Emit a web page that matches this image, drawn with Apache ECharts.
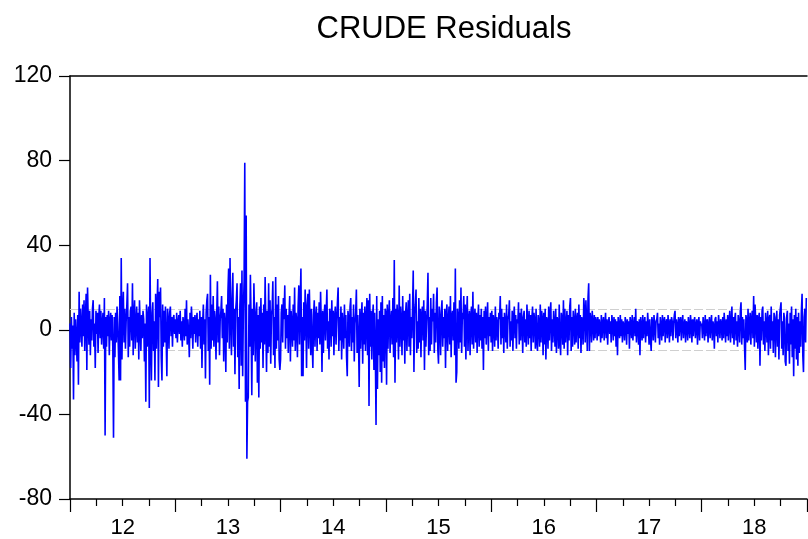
<!DOCTYPE html>
<html>
<head>
<meta charset="utf-8">
<title>CRUDE Residuals</title>
<script src="https://cdn.jsdelivr.net/npm/echarts@6/dist/echarts.min.js"></script>
<style>
  html, body { margin: 0; padding: 0; background: #ffffff; }
  #chart { width: 808px; height: 539px; }
</style>
</head>
<body>
<div id="chart"></div>
<script>
// Daily residuals of the CRUDE equation, one array per calendar year
const r2012 = [
  3, -18, 6, -9, 2, -33, 8, -12, 5, -4,
  -15, 7, -26, 18, -6, 10, 2, -8, 12, -3,
  14, -10, 6, 17, -19, 20, 4, -7, 9, -12,
  5, -5, 10, 14, -8, 3, -18, 9, -2, 8,
  -11, 6, 12, -4, 9, -7, 3, 8, -9, 15,
  -50, 6, -8, 7, -3, 9, -12, 4, 8, -5,
  7, -9, -51, 6, -13, 8, -6, 11, 3, -10,
  -24, 16, -24, 34, -14, 8, 18, -6, 10, -9,
  4, 12, 22, -13, 6, -8, 9, 11, -5, 22,
  -12, 7, 14, -9, 3, 11, -6, 8, -14, 14,
  2, -10, 7, -4, 9, 5, -15, 3, -34, 12,
  -8, 6, 11, -37, 34, -6, -24, 8, 13, -10,
  4, -24, 17, -9, 10, 24, -27, 18, 6, 20,
  -13, -24, 12, -8, 9, -6, 11, -4, -22, 10,
  4, -9, 8, 11, -3, 6, -8, 5, 7, -2
];
const r2013 = [
  5, -4, 8, -6, 3, 7, -2, 9, -5, 4,
  -8, 6, 2, -5, 10, -3, 14, -7, 5, -2,
  -13, 8, -4, 11, 3, -9, 6, -2, 7, -6,
  4, 8, -8, 5, -3, 9, -9, 6, -18, 3,
  12, -7, 5, -23, 8, 14, 17, -10, 6, -26,
  26, -9, 12, -5, 16, -8, 9, 4, -14, 7,
  23, -6, 11, -12, 5, 9, 16, -4, 10, -15,
  8, 3, -20, 12, -6, 18, 29, -9, 34, 6,
  -12, 15, 27, -8, 10, -21, 9, 14, 22, -13,
  6, -28, 11, 22, -17, 28, -22, 9, 23, 79,
  -34, 54, -61, -34, -32, 12, -8, 26, 4, -31,
  10, -12, 22, 5, -15, 8, 13, -25, 7, -32,
  11, -9, 15, -6, 8, -18, 12, -7, 25, 3,
  -20, 9, -11, 22, -8, 14, -16, 7, 10, 23,
  -12, 6, -18, 25, -9, 12, -5, 16, -14, -19
];
const r2014 = [
  -14, 8, 12, -6, 15, 5, 21, -9, 10, -4,
  7, -11, 6, 16, -15, 9, 3, -8, 12, -5,
  20, -10, 8, 4, -13, 11, 21, -7, 14, 29,
  -22, 6, -22, 13, -5, 19, 8, -18, 12, 17,
  -9, 19, 4, -12, 10, -6, -18, 7, 14, -8,
  5, 11, -10, 8, -4, 13, -7, 18, 3, -20,
  9, -11, 6, 12, -5, 8, 19, -9, 4, -14,
  10, 7, -8, 14, -3, 9, -12, 6, 11, -7,
  4, 13, 20, -10, 6, -5, 11, -14, 8, 2,
  -9, 12, -4, 7, -13, -22, 9, 5, -8, 11,
  15, -10, 6, -6, 12, -15, 3, 8, 19, -11,
  7, -4, -27, 10, -9, 5, 13, -16, 8, -7,
  11, -10, 4, 15, -12, 14, -36, 17, -8, 9,
  -14, 6, 12, -19, 8, -10, -45, 16, -28, 5,
  -12, 9, -20, 13, -25, 16, -15, 7, -18, 10
];
const r2015 = [
  8, -26, 12, -9, 6, 14, -11, 4, 9, -7,
  15, -13, 33, -25, 10, -6, 12, 4, -14, 21,
  -8, 11, 3, -12, 16, -5, 9, -16, 7, 13,
  -10, 5, 14, -8, 17, -12, 6, -4, 10, 28,
  -20, 8, 12, 19, -11, 4, -9, 15, -6, 10,
  -13, 7, 11, -5, 14, -19, 9, -8, 3, 12,
  27, -12, 6, -10, 15, -7, 10, 4, 17, -11,
  8, -6, 13, 20, -9, -16, 11, 5, -12, 9,
  14, -8, 6, -4, 10, -18, 7, 12, -10, 4,
  11, -7, 16, -13, 6, 9, -5, 13, -12, 29,
  -25, -20, 10, 6, -9, 14, -6, 20, -11, 8,
  5, 16, -8, 12, -14, 7, 16, -10, 4, 9,
  -12, 6, 11, -7, 18, -9, 5, 10, -6, 8,
  -11, 4, 12, -8, 7, -5, 10, -9, 6, -19,
  9, -4, 11, -7, 5, 13, -10, 6, -3, 8
];
const r2016 = [
  -6, 9, -10, 7, 4, -8, 11, -5, 6, 3,
  -9, 8, 5, 16, -7, 10, -4, 6, -11, 8,
  3, -6, 12, -9, 5, 7, 14, -8, 4, -5,
  9, -10, 6, 11, -4, 7, -9, 5, 3, 13,
  -7, 8, -5, 10, 4, -11, 6, 9, -6, 5,
  -8, 12, 3, -7, 9, -4, 7, -10, 5, 11,
  -6, 8, 4, -9, 10, -5, -10, 7, 3, -8,
  12, -6, 9, 5, -12, 8, -7, 10, -14, 6,
  4, -9, 11, -5, 7, 13, -10, 5, -6, 9,
  3, -8, 10, -11, 6, 4, -9, 12, -5, -12,
  8, 5, -7, 14, -9, 10, -6, 3, 9, -12,
  7, -5, 11, 15, -10, 6, -8, 9, 4, -7,
  10, -6, 5, 8, -9, 12, -4, 7, -11, 6,
  3, -7, 15, 9, -6, 14, 4, -10, 15, 22,
  -10, 8, 5, -6, 9, 3, -5, 7, -4, 6
];
const r2017 = [
  4, -5, 6, -3, 5, 2, -6, 7, -4, 3,
  6, -5, 2, 8, -4, 5, -7, 3, 6, -2,
  4, -6, 7, 3, -5, 6, -3, 5, -8, 4,
  -12, 6, 2, -4, 7, -3, 5, -6, 4, 2,
  -5, 6, 3, -7, 5, -2, 4, -9, 6, 3,
  -4, 7, -5, 2, 6, -3, 10, -6, 4, 3,
  -7, 5, -12, 6, 2, -5, 7, -4, 3, 6,
  -6, 4, -3, 8, 2, -7, 5, -4, -10, 6,
  3, -5, 7, 2, -6, 4, 5, 8, -4, 3,
  -7, 6, 2, -5, 7, -3, 4, 6, -6, 3,
  5, -4, 7, 2, -6, 5, -3, 6, 4, -5,
  3, 7, 9, -4, 5, 2, -6, 6, -3, 4,
  6, -5, 3, 7, -4, 2, 5, -6, 4, 3,
  -5, 6, 2, -4, 7, 3, -6, 5, -3, 4,
  6, -4, 2, 5, -7, 3, 6, -5, 4, 2
];
const r2018 = [
  3, -4, 6, 2, -5, 7, -3, 4, 5, -6,
  2, 6, -4, 3, 7, -5, 4, 2, -9, 5,
  6, -3, 4, -6, 7, 2, -4, 5, 3, -5,
  6, -4, 8, 2, -6, 5, -3, 7, -5, 4,
  9, -6, 3, 11, -4, 6, -7, 5, 8, -5,
  4, -8, 7, 3, -6, 9, 13, -7, 6, -4,
  5, -8, -19, 7, 4, -6, 10, -5, 3, 8,
  -7, 5, 9, -4, 16, -8, 12, 4, -6, 7,
  -9, 5, 8, -17, 6, -5, 9, 11, -7, 4,
  -10, 8, 3, -6, 9, -12, 5, 7, -9, 11,
  -5, 4, -11, 8, 6, -13, 3, 9, -8, 5,
  -14, 7, 10, 13, -9, 4, -12, 8, 5, -15,
  -17, 6, 9, -10, 3, -16, 8, -7, 11, -13,
  5, -22, 7, -9, 10, -14, 6, -17, 8, -11,
  4, -8, 9, 17, -12, -20, 6, 10, -6, 15
];

const years = [2012, 2013, 2014, 2015, 2016, 2017, 2018];
const yearSeries = [r2012, r2013, r2014, r2015, r2016, r2017, r2018];
const yearLabels = ['12', '13', '14', '15', '16', '17', '18'];
const yTicks = [-80, -40, 0, 40, 80, 120];
const bandLevels = [9.6, -9.6];

// Spread each year's observations evenly across that year on a fractional-year axis
const points = [];
years.forEach(function (yr, k) {
  const vals = yearSeries[k];
  vals.forEach(function (v, i) {
    points.push([yr + i / vals.length, v]);
  });
});

const xMin = years[0];
const xMax = years[years.length - 1] + 1;
// year labels sit at mid-year
const labelPositions = years.map(function (y) { return y + 0.5; });
const FONT = '"Liberation Sans", Arial, sans-serif';

const chart = echarts.init(document.getElementById('chart'), null, { renderer: 'canvas' });
chart.setOption({
  animation: false,
  backgroundColor: '#ffffff',
  title: {
    text: 'CRUDE Residuals',
    left: 439,
    top: 9,
    textAlign: 'center',
    textStyle: { fontFamily: FONT, fontSize: 31, fontWeight: 'normal', color: '#000000' }
  },
  grid: { left: 70, right: 1, top: 76, bottom: 39 },
  xAxis: [
    {
      // long ticks at year boundaries, short quarter ticks, labels at mid-year
      type: 'value',
      min: xMin,
      max: xMax,
      interval: 1,
      position: 'bottom',
      axisLine: { show: true, onZero: false, lineStyle: { color: '#000000', width: 1.5 } },
      axisTick: { show: true, inside: false, length: 13, lineStyle: { color: '#000000', width: 1.2 } },
      minorTick: { show: true, splitNumber: 4, length: 7, lineStyle: { color: '#000000', width: 1.2 } },
      axisLabel: {
        show: true,
        customValues: labelPositions,
        margin: 18,
        fontFamily: FONT,
        fontSize: 22,
        color: '#000000',
        formatter: function (v) {
          const idx = years.indexOf(Math.floor(v + 1e-9));
          return idx >= 0 ? yearLabels[idx] : '';
        }
      },
      splitLine: { show: false },
      minorSplitLine: { show: false }
    },
    {
      // top frame line
      type: 'value',
      min: xMin,
      max: xMax,
      position: 'top',
      axisLine: { show: true, onZero: false, lineStyle: { color: '#000000', width: 1.5 } },
      axisTick: { show: false },
      axisLabel: { show: false },
      splitLine: { show: false }
    }
  ],
  yAxis: {
    type: 'value',
    min: yTicks[0],
    max: yTicks[yTicks.length - 1],
    interval: 40,
    axisLine: { show: true, onZero: false, lineStyle: { color: '#000000', width: 1.5 } },
    axisTick: { show: true, inside: false, length: 11, lineStyle: { color: '#000000', width: 1.2 } },
    axisLabel: {
      margin: 18,
      fontFamily: FONT,
      fontSize: 23,
      color: '#000000',
      formatter: function (v) { return yTicks.indexOf(v) >= 0 ? String(v) : ''; }
    },
    splitLine: { show: false }
  },
  series: [
    {
      type: 'line',
      xAxisIndex: 0,
      data: points,
      symbol: 'none',
      lineStyle: { color: '#0000ff', width: 1.6 },
      clip: true,
      z: 3,
      markLine: {
        silent: true,
        symbol: ['none', 'none'],
        label: { show: false },
        lineStyle: { color: '#cfcfcf', type: [9, 3], width: 1.2 },
        z: 1,
        data: bandLevels.map(function (b) { return { yAxis: b }; })
      }
    }
  ]
});
</script>
</body>
</html>
